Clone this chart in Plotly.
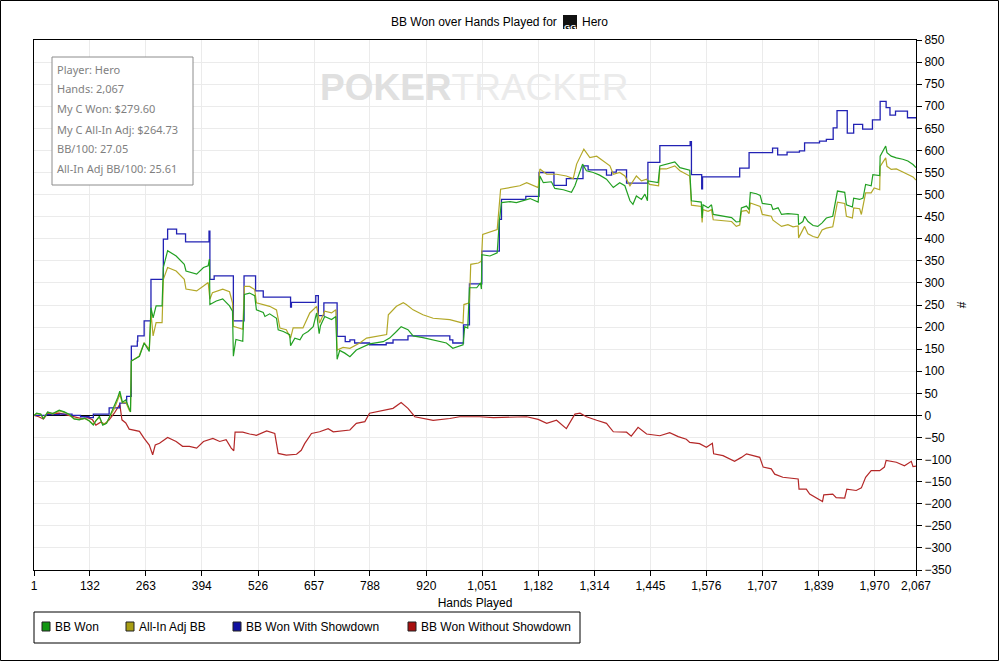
import plotly.graph_objects as go

# page / plot area in pixels
W, H = 999, 661
L, R, T, B = 34, 83, 40, 91
PW, PH = W - L - R, H - T - B


def px(x):
    return (x - L) / PW


def py(y):
    return (H - B - y) / PH


# BB Won (green)
won_hands = [1, 7, 17, 23, 33, 45, 60, 72, 84, 95, 107, 119, 130, 140, 146, 154, 162, 171, 177,
             189, 197, 202, 208, 216, 224, 227, 229, 248, 259, 271, 275, 280, 287, 301, 304, 314,
             334, 353, 357, 382, 398, 409, 412, 413, 428, 443, 459, 466, 468, 474, 490, 494, 506,
             518, 522, 538, 542, 553, 569, 573, 585, 600, 602, 612, 624, 631, 643, 655, 663, 669,
             672, 682, 698, 708, 711, 717, 729, 741, 756, 776, 787, 819, 834, 850, 861, 877, 889,
             912, 936, 967, 982, 1006, 1010, 1017, 1021, 1038, 1047, 1049, 1050, 1069, 1086, 1091,
             1096, 1116, 1131, 1147, 1163, 1182, 1186, 1194, 1213, 1221, 1241, 1260, 1268, 1286,
             1295, 1311, 1326, 1342, 1358, 1373, 1385, 1397, 1404, 1412, 1424, 1432, 1438, 1439,
             1463, 1467, 1482, 1502, 1514, 1529, 1537, 1541, 1564, 1566, 1568, 1580, 1588, 1592,
             1615, 1635, 1646, 1654, 1658, 1670, 1676, 1679, 1693, 1702, 1707, 1728, 1732, 1744,
             1752, 1767, 1791, 1792, 1802, 1806, 1814, 1826, 1837, 1847, 1857, 1872, 1883, 1900,
             1904, 1918, 1921, 1935, 1943, 1949, 1962, 1966, 1982, 1983, 1996, 1999, 2009, 2021,
             2036, 2048, 2060, 2067]
won_bb = [0, 5, 3, -8, 8, 4, 12, 8, 2, -8, -10, -6, -12, -22, -12, -2, -22, -18, -5,
          20, 40, 55, 30, 35, 12, 8, 123, 134, 164, 145, 244, 221, 248, 248, 335, 373,
          361, 342, 327, 320, 335, 339, 354, 251, 259, 264, 248, 236, 134, 172, 168, 274, 277,
          271, 239, 233, 224, 230, 220, 194, 190, 183, 158, 175, 171, 183, 190, 201, 232, 185,
          203, 224, 217, 224, 127, 147, 141, 133, 148, 158, 162, 167, 175, 190, 201, 194, 180,
          176, 171, 164, 152, 160, 201, 198, 289, 289, 300, 286, 364, 361, 368, 440,
          482, 484, 482, 486, 491, 483, 542, 527, 529, 514, 511, 505, 520, 569,
          554, 550, 544, 535, 516, 527, 520, 486, 478, 497, 489, 501, 486, 531,
          527, 565, 569, 574, 561, 558, 555, 486, 483, 447, 477, 470, 477, 455,
          452, 448, 438, 439, 470, 474, 466, 505, 502, 498, 480, 477, 466, 470,
          455, 457, 455, 432, 439, 451, 439, 430, 428, 436, 447, 451, 508, 505,
          477, 472, 492, 489, 492, 523, 520, 545, 543, 587, 610, 595, 587, 583,
          580, 576, 568, 561]

# All-In Adj BB (olive)
adj_hands = [1, 7, 17, 23, 33, 45, 60, 72, 84, 95, 107, 119, 130, 140, 146, 154, 162, 171, 177,
             189, 197, 202, 208, 216, 224, 227, 229, 247, 259, 271, 275, 280, 287, 301, 304, 314,
             334, 353, 357, 382, 398, 409, 413, 419, 443, 459, 466, 468, 490, 494, 506, 518, 522,
             538, 553, 569, 577, 592, 602, 608, 631, 647, 655, 663, 670, 682, 698, 708, 711, 725,
             741, 764, 780, 803, 827, 831, 850, 866, 873, 889, 912, 936, 975, 1006, 1008, 1021,
             1024, 1042, 1049, 1052, 1077, 1086, 1094, 1116, 1139, 1155, 1182, 1186, 1202, 1225,
             1248, 1264, 1272, 1289, 1303, 1319, 1334, 1350, 1358, 1373, 1385, 1397, 1412, 1424,
             1436, 1443, 1464, 1467, 1482, 1502, 1514, 1537, 1541, 1564, 1566, 1568, 1580, 1588,
             1592, 1615, 1635, 1646, 1654, 1658, 1670, 1676, 1679, 1702, 1707, 1728, 1732, 1752,
             1767, 1779, 1791, 1792, 1806, 1814, 1826, 1837, 1847, 1857, 1872, 1883, 1900, 1904,
             1918, 1921, 1935, 1939, 1949, 1962, 1969, 1982, 1983, 1996, 1999, 2009, 2021, 2036,
             2048, 2060, 2067]
adj_bb = [0, 4, 2, -6, 7, 3, 10, 7, 1, -8, -9, -7, -12, -20, -12, -4, -20, -16, -6,
          15, 35, 48, 28, 30, 12, 8, 123, 134, 164, 150, 232, 180, 210, 210, 308, 335,
          327, 308, 286, 282, 293, 301, 263, 278, 286, 280, 255, 202, 195, 292, 292, 285, 255,
          251, 247, 239, 198, 194, 175, 198, 198, 232, 239, 247, 209, 236, 232, 239, 148, 154,
          152, 164, 175, 179, 183, 228, 247, 255, 251, 239, 228, 220, 217, 209, 251, 255,
          342, 345, 349, 410, 417, 421, 512, 516, 520, 527, 516, 558, 546, 546,
          542, 536, 569, 603, 584, 587, 577, 565, 546, 550, 542, 520, 542, 531,
          535, 523, 520, 558, 558, 565, 554, 542, 476, 473, 437, 466, 462, 466,
          443, 441, 439, 428, 431, 462, 464, 457, 481, 473, 455, 451, 442, 428,
          432, 427, 429, 402, 428, 411, 405, 402, 420, 424, 427, 483, 480, 451,
          447, 470, 468, 455, 504, 504, 515, 511, 564, 583, 564, 557, 558, 551,
          545, 540, 533]

# BB Won With Showdown (blue, stepped)
sd_hands = [1, 30, 60, 90, 110, 130, 140, 177, 202, 218, 229, 243, 244, 259, 275, 304, 314,
            335, 356, 411, 413, 423, 468, 493, 520, 538, 602, 604, 661, 667, 680, 711, 730,
            741, 752, 787, 826, 842, 877, 975, 982, 1007, 1021, 1050, 1091, 1096, 1153, 1184,
            1219, 1248, 1287, 1299, 1342, 1354, 1365, 1389, 1439, 1467, 1538, 1541, 1565, 1567,
            1654, 1676, 1731, 1743, 1765, 1794, 1806, 1841, 1857, 1873, 1882, 1906, 1921, 1942,
            1965, 1983, 1997, 2006, 2019, 2047, 2067]
sd_bb = [0, 2, 3, 0, -3, -5, 3, 17, 28, 43, 157, 168, 180, 214, 308, 399, 422,
         411, 393, 417, 308, 316, 214, 316, 282, 268, 245, 256, 271, 226, 255, 179, 167,
         171, 164, 160, 164, 171, 180, 171, 164, 205, 298, 372, 444, 489, 496, 550,
         521, 536, 565, 556, 544, 551, 556, 526, 573, 611, 620, 545, 513, 540,
         560, 595, 605, 590, 596, 599, 617, 621, 625, 651, 690, 639, 659, 648,
         669, 711, 697, 680, 689, 674, 674]

# BB Won Without Showdown (red)
nosd_hands = [1, 12, 23, 33, 60, 84, 100, 115, 127, 138, 146, 158, 166, 177, 189, 199, 202,
              207, 216, 224, 248, 259, 271, 279, 285, 295, 314, 334, 349, 365, 382, 398, 420,
              436, 451, 463, 469, 472, 490, 506, 522, 546, 565, 573, 592, 616, 627, 635, 651,
              670, 690, 702, 741, 756, 776, 787, 819, 842, 861, 877, 893, 912, 936, 975, 998,
              1045, 1077, 1155, 1182, 1202, 1225, 1248, 1268, 1280, 1295, 1319, 1342, 1358, 1389,
              1400, 1416, 1436, 1467, 1490, 1510, 1529, 1537, 1560, 1576, 1590, 1593, 1615, 1642,
              1658, 1670, 1701, 1709, 1728, 1736, 1755, 1791, 1793, 1810, 1818, 1837, 1848, 1851,
              1872, 1880, 1900, 1905, 1927, 1939, 1949, 1962, 1982, 1993, 1997, 2021, 2040, 2056,
              2060, 2067]
nosd_bb = [0, -3, -8, 4, 5, 0, -5, -8, -5, -10, -22, -15, -20, -10, 5, 22, 25,
           -10, -17, -31, -36, -52, -67, -89, -67, -63, -50, -59, -70, -70, -74, -59, -52,
           -59, -55, -74, -80, -38, -38, -42, -45, -35, -41, -86, -90, -88, -79, -64, -41,
           -37, -30, -37, -33, -18, -14, 5, 11, 16, 29, 16, -3, -7, -11, -7, -3,
           -3, -5, -3, -9, -18, -11, -30, 3, 5, -3, -11, -18, -37, -38,
           -47, -27, -42, -46, -39, -48, -54, -61, -64, -72, -63, -87, -91, -104,
           -95, -87, -95, -117, -121, -133, -140, -144, -167, -167, -178, -189, -195, -180,
           -178, -186, -187, -167, -170, -164, -140, -125, -125, -117, -102, -106, -114, -104,
           -116, -115]

x_ticks = [1, 132, 263, 394, 526, 657, 788, 920, 1051, 1182, 1314, 1445, 1576, 1707, 1839, 1970, 2067]
x_labels = ["1", "132", "263", "394", "526", "657", "788", "920", "1,051", "1,182", "1,314",
            "1,445", "1,576", "1,707", "1,839", "1,970", "2,067"]

series_names = ["BB Won", "All-In Adj BB", "BB Won With Showdown", "BB Won Without Showdown"]
line_colors = ["#22a022", "#b3a828", "#2222b4", "#b42828"]
swatch_colors = ["#129612", "#a89e14", "#1010a0", "#a81010"]

info_lines = ["Player: Hero", "Hands: 2,067", "My C Won: $279.60", "My C All-In Adj: $264.73",
              "BB/100: 27.05", "All-In Adj BB/100: 25.61"]

fig = go.Figure()
fig.add_trace(go.Scatter(x=nosd_hands, y=nosd_bb, mode="lines", name=series_names[3],
                         line=dict(color=line_colors[3], width=1.2)))
fig.add_trace(go.Scatter(x=sd_hands, y=sd_bb, mode="lines", name=series_names[2],
                         line=dict(color=line_colors[2], width=1.3, shape="hv")))
fig.add_trace(go.Scatter(x=adj_hands, y=adj_bb, mode="lines", name=series_names[1],
                         line=dict(color=line_colors[1], width=1.2)))
fig.add_trace(go.Scatter(x=won_hands, y=won_bb, mode="lines", name=series_names[0],
                         line=dict(color=line_colors[0], width=1.2)))

fnt = "Liberation Sans, Arial, sans-serif"

fig.update_layout(
    width=W, height=H,
    margin=dict(l=L, r=R, t=T, b=B),
    paper_bgcolor="white", plot_bgcolor="white",
    font=dict(family=fnt, size=12, color="black"),
    showlegend=False,
    xaxis=dict(range=[1, 2067], tickvals=x_ticks, ticktext=x_labels,
               ticks="outside", ticklen=5, tickcolor="black",
               showline=True, linecolor="black", linewidth=1, mirror=True,
               showgrid=True, gridcolor="#ebebeb", zeroline=False,
               title=dict(text="Hands Played", standoff=6, font=dict(size=12))),
    yaxis=dict(side="right", range=[-350, 850], tick0=0, dtick=50,
               ticks="outside", ticklen=5, tickcolor="black",
               showline=True, linecolor="black", linewidth=1, mirror=True,
               showgrid=True, gridcolor="#ebebeb",
               zeroline=True, zerolinecolor="black", zerolinewidth=1.2,
               title=dict(text="#", standoff=6, font=dict(size=12))),
)

# title with the site icon between text and player name
fig.add_annotation(x=px(559), y=py(22), xref="paper", yref="paper", xanchor="right",
                   yanchor="middle", showarrow=False, text="BB Won over Hands Played for",
                   font=dict(size=12, family=fnt))
fig.add_annotation(x=px(580), y=py(22), xref="paper", yref="paper", xanchor="left",
                   yanchor="middle", showarrow=False, text="Hero", font=dict(size=12, family=fnt))
fig.add_shape(type="rect", xref="paper", yref="paper", x0=px(563), x1=px(577),
              y0=py(29), y1=py(15), fillcolor="#111111", line=dict(color="#111111", width=0))
fig.add_annotation(x=px(570), y=py(21), xref="paper", yref="paper", showarrow=False,
                   text="<b>GG</b>", font=dict(size=8, color="white", family=fnt))

# watermark
fig.add_annotation(x=px(474), y=py(88), xref="paper", yref="paper", showarrow=False,
                   xanchor="center", yanchor="middle",
                   text="<b><span style='color:#e0e0e0'>POKER</span></b>"
                        "<span style='color:#ebebeb'>TRACKER</span>",
                   font=dict(size=37, family=fnt))

# info box
fig.add_shape(type="rect", xref="paper", yref="paper", x0=px(52), x1=px(193),
              y0=py(185), y1=py(57), line=dict(color="#8c8c8c", width=1), fillcolor="white",
              layer="above")
for i, txt in enumerate(info_lines):
    fig.add_annotation(x=px(55), y=py(69 + 20 * i), xref="paper", yref="paper",
                       xanchor="left", yanchor="middle", showarrow=False, text=txt,
                       font=dict(size=11, color="#7f7f7f", family="Noto Sans, sans-serif"))

# legend box drawn by hand (square swatches like the original)
fig.add_shape(type="rect", xref="paper", yref="paper", x0=px(34), x1=px(580),
              y0=py(643), y1=py(612), line=dict(color="black", width=1), fillcolor="white")
for name, col, x0 in zip(series_names, swatch_colors, [42, 126, 233, 408]):
    fig.add_shape(type="rect", xref="paper", yref="paper", x0=px(x0), x1=px(x0 + 8),
                  y0=py(631), y1=py(622), fillcolor=col, line=dict(color="#202020", width=1))
    fig.add_annotation(x=px(x0 + 11), y=py(626.5), xref="paper", yref="paper",
                       xanchor="left", yanchor="middle", showarrow=False, text=name,
                       font=dict(size=12, family=fnt))

# outer frame of the picture
fig.add_shape(type="rect", xref="paper", yref="paper", x0=px(0.5), x1=px(998.5),
              y0=py(660.5), y1=py(0.5), line=dict(color="black", width=1))

fig.write_html("out.html", config={"displayModeBar": False},
               post_script="document.body.style.margin='0px';")
